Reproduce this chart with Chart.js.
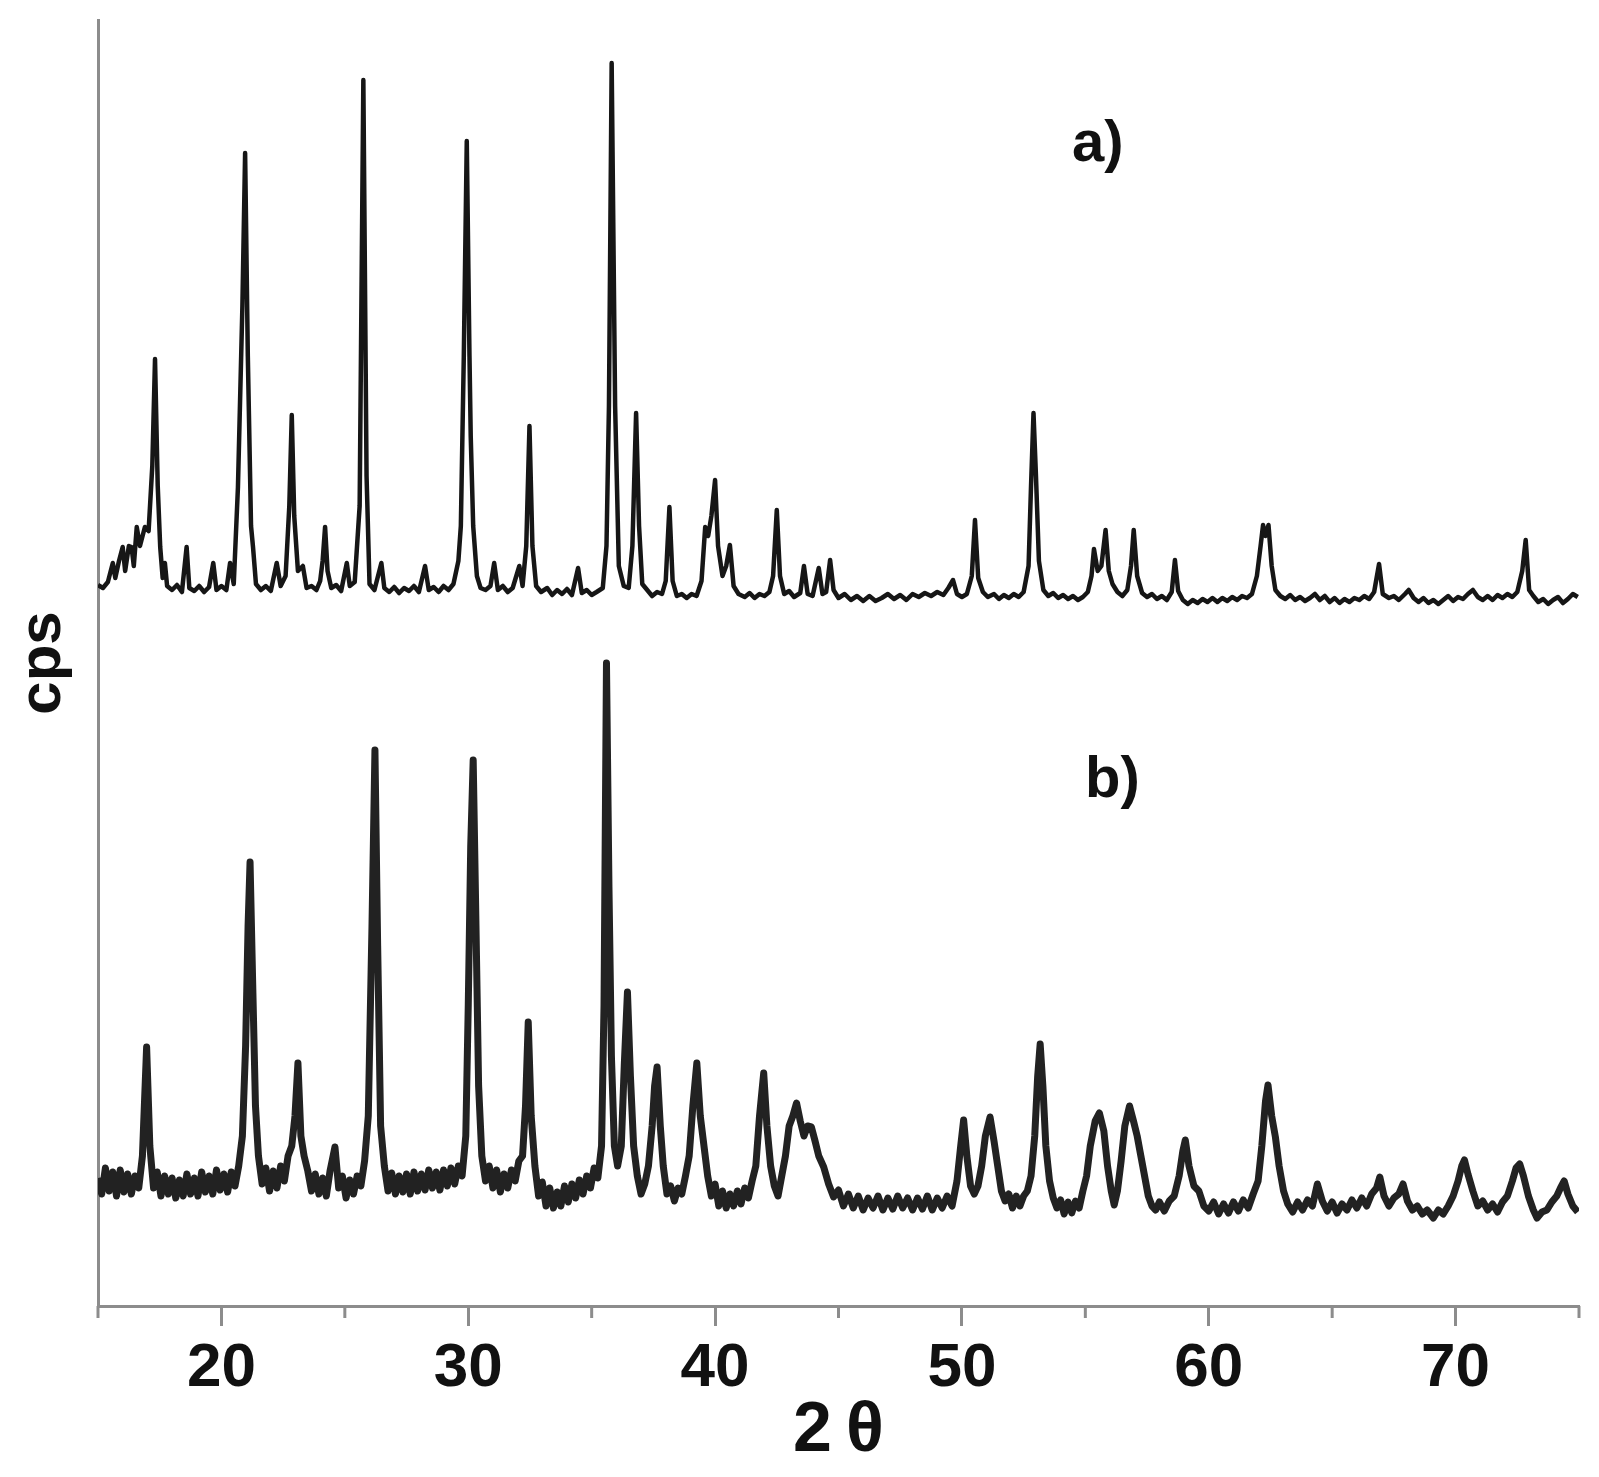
<!DOCTYPE html>
<html lang="en">
<head>
  <meta charset="UTF-8" />
  <title>XRD pattern</title>
  <script src="https://cdn.jsdelivr.net/npm/chart.js"></script>
  <style>
    body {
      margin: 0;
      background: #ffffff;
    }

    .chart-box {
      width: 1599px;
      height: 1477px;
      position: relative;
    }
  </style>
</head>
<body>
  <div class="chart-box"><canvas id="xrdChart"></canvas></div>

  <script>
    // 2-theta positions and counts
    const thetaA = [
      15.0, 15.2, 15.4, 15.6, 15.7, 15.85, 16.0, 16.1, 16.25, 16.36,
      16.45, 16.57, 16.7, 16.9, 17.05, 17.2, 17.31, 17.42, 17.52, 17.62,
      17.71, 17.8, 18.0, 18.2, 18.4, 18.59, 18.7, 18.9, 19.1, 19.3,
      19.5, 19.67, 19.8, 20.0, 20.2, 20.35, 20.5, 20.67, 20.85, 20.96,
      21.07, 21.2, 21.28, 21.4, 21.6, 21.8, 22.0, 22.24, 22.4, 22.6,
      22.75, 22.85, 22.95, 23.1, 23.3, 23.45, 23.65, 23.85, 24.0, 24.1,
      24.2, 24.3, 24.45, 24.65, 24.85, 25.08, 25.2, 25.4, 25.6, 25.75,
      25.88, 26.0, 26.2, 26.48, 26.6, 26.8, 27.0, 27.2, 27.4, 27.6,
      27.8, 28.0, 28.25, 28.4, 28.6, 28.8, 29.0, 29.2, 29.4, 29.6,
      29.7, 29.82, 29.94, 30.05, 30.1, 30.2, 30.35, 30.5, 30.7, 30.9,
      31.05, 31.2, 31.4, 31.6, 31.8, 32.07, 32.2, 32.35, 32.48, 32.6,
      32.75, 32.95, 33.2, 33.4, 33.6, 33.8, 34.0, 34.2, 34.45, 34.6,
      34.8, 35.0, 35.2, 35.45, 35.6, 35.7, 35.81, 35.95, 36.1, 36.3,
      36.5, 36.65, 36.8, 36.92, 37.05, 37.25, 37.45, 37.65, 37.85, 38.0,
      38.15, 38.28, 38.45, 38.65, 38.85, 39.05, 39.25, 39.45, 39.6, 39.72,
      39.85, 40.0, 40.12, 40.3, 40.45, 40.6, 40.75, 40.95, 41.2, 41.4,
      41.6, 41.8, 42.0, 42.2, 42.35, 42.5, 42.63, 42.8, 43.0, 43.2,
      43.45, 43.6, 43.75, 43.95, 44.2, 44.35, 44.5, 44.66, 44.8, 45.0,
      45.25, 45.5, 45.75, 46.0, 46.25, 46.5, 46.75, 47.0, 47.25, 47.5,
      47.75, 48.0, 48.25, 48.5, 48.75, 49.0, 49.25, 49.45, 49.64, 49.8,
      50.0, 50.2, 50.4, 50.53, 50.66, 50.85, 51.05, 51.3, 51.5, 51.7,
      51.9, 52.1, 52.3, 52.5, 52.7, 52.8, 52.9, 53.0, 53.12, 53.3,
      53.5, 53.7, 53.9, 54.1, 54.3, 54.5, 54.7, 54.9, 55.1, 55.25,
      55.35, 55.5, 55.65, 55.82, 55.95, 56.1, 56.3, 56.5, 56.7, 56.85,
      56.96, 57.1, 57.3, 57.5, 57.7, 57.9, 58.1, 58.3, 58.5, 58.63,
      58.76, 58.95, 59.15, 59.35, 59.55, 59.75, 59.95, 60.15, 60.35, 60.55,
      60.75, 60.95, 61.15, 61.35, 61.55, 61.75, 61.95, 62.1, 62.2, 62.3,
      62.42, 62.55, 62.7, 62.9, 63.1, 63.3, 63.5, 63.7, 63.9, 64.1,
      64.3, 64.5, 64.7, 64.9, 65.1, 65.3, 65.5, 65.7, 65.9, 66.1,
      66.3, 66.5, 66.7, 66.9, 67.05, 67.3, 67.5, 67.7, 67.95, 68.1,
      68.3, 68.5, 68.7, 68.9, 69.1, 69.3, 69.5, 69.7, 69.9, 70.1,
      70.3, 70.5, 70.7, 70.9, 71.1, 71.3, 71.5, 71.7, 71.9, 72.1,
      72.3, 72.5, 72.7, 72.84, 72.98, 73.15, 73.35, 73.55, 73.75, 73.95,
      74.15, 74.35, 74.55, 74.75, 74.95
    ];
    const cpsA = [
      721, 718, 724, 743, 728, 745, 759, 735, 760, 759,
      740, 779, 760, 779, 775, 840, 947, 820, 759, 728,
      743, 720, 716, 721, 714, 759, 718, 715, 720, 714,
      719, 743, 716, 720, 716, 743, 722, 819, 1000, 1153,
      950, 780, 759, 722, 716, 720, 715, 743, 720, 730,
      800, 891, 790, 735, 740, 718, 720, 716, 725, 745,
      779, 735, 718, 721, 715, 743, 720, 724, 800, 1226,
      830, 722, 716, 743, 718, 714, 719, 713, 718, 715,
      720, 714, 740, 716, 719, 714, 720, 716, 722, 745,
      780, 950, 1165, 950, 870, 780, 730, 718, 716, 720,
      743, 716, 720, 714, 718, 740, 720, 760, 880, 760,
      720, 714, 718, 711, 716, 712, 717, 711, 738, 713,
      716, 711, 714, 718, 760, 900, 1243, 900, 740, 720,
      718, 760, 893, 780, 722, 716, 710, 714, 712, 725,
      799, 725, 710, 712, 708, 712, 710, 725, 779, 770,
      790, 826, 760, 730, 740, 761, 720, 712, 709, 713,
      708, 712, 710, 714, 730, 796, 730, 712, 715, 709,
      713, 740, 712, 710, 738, 712, 714, 746, 716, 708,
      712, 706, 710, 705, 710, 705, 708, 712, 707, 711,
      706, 712, 709, 713, 710, 714, 711, 718, 726, 712,
      709, 712, 730, 786, 728, 714, 709, 712, 707, 711,
      708, 712, 709, 714, 740, 820, 893, 830, 745, 716,
      710, 713, 708, 711, 707, 710, 706, 709, 714, 730,
      757, 735, 740, 776, 735, 722, 714, 710, 716, 740,
      776, 730, 713, 709, 712, 707, 710, 706, 714, 746,
      715, 706, 702, 706, 703, 707, 704, 708, 704, 708,
      705, 709, 706, 710, 708, 712, 730, 760, 781, 770,
      781, 740, 716, 710, 707, 711, 706, 709, 705, 708,
      712, 706, 710, 704, 708, 703, 707, 704, 708, 706,
      710, 707, 714, 742, 712, 708, 710, 706, 712, 716,
      708, 704, 708, 703, 706, 702, 706, 710, 705, 709,
      707, 712, 716, 709, 706, 710, 706, 711, 708, 712,
      709, 714, 735, 766, 716, 710, 704, 707, 702, 706,
      709, 703, 707, 712, 709
    ];

    const thetaB = [
      15.0, 15.15, 15.3, 15.45, 15.6, 15.75, 15.9, 16.05, 16.2, 16.35,
      16.5, 16.65, 16.8, 16.97, 17.1, 17.25, 17.4, 17.55, 17.7, 17.85,
      18.0, 18.15, 18.3, 18.45, 18.6, 18.75, 18.9, 19.05, 19.2, 19.35,
      19.5, 19.65, 19.8, 19.95, 20.1, 20.25, 20.4, 20.55, 20.7, 20.85,
      20.98, 21.08, 21.16, 21.26, 21.38, 21.5, 21.65, 21.8, 21.95, 22.1,
      22.25, 22.4, 22.55, 22.7, 22.85, 22.98, 23.1, 23.22, 23.35, 23.5,
      23.65, 23.8, 23.95, 24.1, 24.25, 24.4, 24.6, 24.75, 24.9, 25.05,
      25.2, 25.35, 25.5, 25.65, 25.8, 25.95, 26.1, 26.22, 26.33, 26.45,
      26.6, 26.75, 26.9, 27.05, 27.2, 27.35, 27.5, 27.65, 27.8, 27.95,
      28.1, 28.25, 28.4, 28.55, 28.7, 28.85, 29.0, 29.15, 29.3, 29.45,
      29.6, 29.75, 29.9, 30.0, 30.1, 30.2, 30.3, 30.42, 30.55, 30.7,
      30.85, 31.0, 31.15, 31.3, 31.45, 31.6, 31.75, 31.9, 32.05, 32.2,
      32.32, 32.43, 32.55, 32.7, 32.85, 33.0, 33.15, 33.3, 33.45, 33.6,
      33.75, 33.9, 34.05, 34.2, 34.35, 34.5, 34.65, 34.8, 34.95, 35.1,
      35.25, 35.4, 35.5, 35.6, 35.7, 35.8, 35.92, 36.05, 36.2, 36.32,
      36.45, 36.57, 36.7, 36.85, 37.0, 37.15, 37.3, 37.45, 37.55, 37.65,
      37.78, 37.9, 38.05, 38.2, 38.35, 38.5, 38.65, 38.8, 38.95, 39.1,
      39.26, 39.4, 39.55, 39.7, 39.85, 40.0, 40.15, 40.3, 40.45, 40.6,
      40.75, 40.9, 41.05, 41.2, 41.35, 41.5, 41.65, 41.8, 41.97, 42.1,
      42.25, 42.4, 42.55, 42.7, 42.85, 43.0, 43.15, 43.3, 43.45, 43.6,
      43.75, 43.9, 44.05, 44.2, 44.4, 44.6, 44.8, 45.0, 45.2, 45.4,
      45.6, 45.8, 46.0, 46.2, 46.4, 46.6, 46.8, 47.0, 47.2, 47.4,
      47.6, 47.8, 48.0, 48.2, 48.4, 48.6, 48.8, 49.0, 49.2, 49.4,
      49.6, 49.8, 49.95, 50.07, 50.2, 50.35, 50.5, 50.65, 50.8, 50.95,
      51.14, 51.3, 51.45, 51.6, 51.75, 51.9, 52.05, 52.2, 52.35, 52.5,
      52.65, 52.8, 52.95, 53.07, 53.17, 53.28, 53.4, 53.55, 53.7, 53.85,
      54.0, 54.14, 54.3, 54.45, 54.6, 54.75, 54.9, 55.05, 55.2, 55.4,
      55.57, 55.75, 55.9, 56.05, 56.17, 56.3, 56.45, 56.6, 56.79, 56.95,
      57.1, 57.25, 57.4, 57.55, 57.7, 57.85, 58.0, 58.2, 58.4, 58.6,
      58.8, 58.95, 59.05, 59.2, 59.4, 59.6, 59.8, 60.0, 60.2, 60.4,
      60.6, 60.8, 61.0, 61.2, 61.4, 61.6, 61.8, 62.0, 62.15, 62.3,
      62.4, 62.55, 62.7, 62.85, 63.03, 63.2, 63.4, 63.6, 63.8, 64.0,
      64.2, 64.4, 64.6, 64.8, 65.0, 65.2, 65.4, 65.6, 65.8, 66.0,
      66.2, 66.4, 66.6, 66.8, 66.93, 67.1, 67.3, 67.5, 67.7, 67.87,
      68.05, 68.25, 68.45, 68.65, 68.85, 69.1, 69.3, 69.5, 69.7, 69.9,
      70.1, 70.25, 70.36, 70.5, 70.7, 70.9, 71.1, 71.3, 71.5, 71.7,
      71.9, 72.1, 72.3, 72.45, 72.6, 72.75, 72.95, 73.15, 73.3, 73.5,
      73.7, 73.9, 74.1, 74.25, 74.4, 74.55, 74.75, 74.95
    ];
    const cpsB = [
      128, 112, 138, 115, 134, 110, 136, 114, 132, 112,
      130, 118, 150, 259, 160, 118, 134, 110, 130, 112,
      128, 108, 126, 110, 132, 112, 128, 110, 134, 114,
      130, 112, 136, 116, 132, 114, 134, 120, 140, 170,
      260, 380, 444, 330, 200, 150, 122, 138, 115, 135,
      118, 140, 125, 150, 160, 190, 243, 170, 150, 135,
      115, 132, 112, 128, 110, 135, 159, 118, 130, 108,
      126, 112, 130, 120, 145, 190, 380, 556, 360, 180,
      140, 115, 133, 112, 130, 114, 132, 112, 134, 115,
      132, 116, 136, 118, 134, 116, 136, 120, 138, 122,
      140, 130, 170, 300, 460, 546, 400, 220, 150, 125,
      140, 118, 136, 114, 132, 118, 136, 125, 145, 150,
      200, 284, 190, 140, 110, 124, 100, 118, 98, 114,
      100, 120, 104, 122, 108, 126, 112, 130, 118, 138,
      128, 160, 300, 643, 420, 250, 160, 140, 160, 240,
      314, 230, 160, 130, 112, 122, 140, 180, 220, 239,
      180, 140, 112, 120, 105, 118, 112, 130, 150, 200,
      243, 190, 160, 130, 110, 122, 100, 115, 98, 112,
      100, 115, 102, 118, 108, 125, 140, 190, 233, 180,
      140, 120, 110, 130, 150, 180, 190, 203, 185, 170,
      180, 179, 165, 150, 139, 122, 109, 116, 100, 112,
      98, 110, 96, 108, 98, 110, 96, 108, 97, 110,
      98, 108, 96, 108, 97, 110, 96, 108, 98, 110,
      100, 125, 160, 186, 150, 120, 112, 120, 140, 170,
      189, 165, 140, 115, 105, 112, 98, 110, 100, 110,
      115, 130, 170, 230, 262, 220, 160, 125, 108, 98,
      106, 92, 104, 93, 105, 98, 115, 130, 160, 185,
      193, 175, 140, 115, 101, 115, 145, 180, 200, 185,
      170, 150, 130, 110, 100, 96, 104, 95, 105, 110,
      130, 155, 166, 140, 120, 115, 100, 95, 104, 92,
      102, 93, 104, 95, 106, 98, 112, 125, 160, 205,
      221, 190, 169, 140, 115, 102, 94, 104, 96, 106,
      100, 122, 105, 95, 104, 93, 102, 96, 106, 98,
      108, 100, 112, 118, 129, 110, 100, 108, 112, 122,
      105, 96, 100, 92, 96, 88, 96, 92, 100, 110,
      125, 140, 146, 132, 115, 100, 105, 96, 102, 94,
      104, 110, 125, 138, 142, 130, 110, 96, 88, 94,
      96, 104, 110, 118, 125, 112, 100, 94
    ];

    const majorTicks = [20, 30, 40, 50, 60, 70];
    const minorTicks = [15, 25, 35, 45, 55, 65, 75];
    const traceNames = ['a)', 'b)'];

    const fontFamily = "'Liberation Sans', Arial, sans-serif";
    const axisGrey = '#8c8c8c';

    // short unlabelled ticks at the odd fives
    const minorTickMarks = {
      id: 'minorTickMarks',
      afterDraw(chart) {
        const s = chart.scales.x;
        const ctx = chart.ctx;
        ctx.save();
        ctx.strokeStyle = axisGrey;
        ctx.lineWidth = 3;
        minorTicks.forEach(v => {
          const px = s.getPixelForValue(v);
          ctx.beginPath();
          ctx.moveTo(px, s.top);
          ctx.lineTo(px, s.top + 12);
          ctx.stroke();
        });
        ctx.restore();
      }
    };

    // "a)" / "b)" tags placed in data coordinates
    const traceTags = {
      id: 'traceTags',
      afterDatasetsDraw(chart, args, opts) {
        const { ctx, scales: { x, y } } = chart;
        ctx.save();
        ctx.font = 'bold 58px ' + fontFamily;
        ctx.fillStyle = '#111';
        ctx.textAlign = 'center';
        ctx.textBaseline = 'middle';
        opts.items.forEach(it => {
          ctx.fillText(it.text, x.getPixelForValue(it.x), y.getPixelForValue(it.y));
        });
        ctx.restore();
      }
    };

    new Chart(document.getElementById('xrdChart'), {
      type: 'line',
      data: {
        datasets: [
          {
            label: traceNames[0],
            data: thetaA.map((t, i) => ({ x: t, y: cpsA[i] })),
            borderColor: '#161616',
            borderWidth: 4.5,
            borderJoinStyle: 'round',
            pointRadius: 0,
            tension: 0
          },
          {
            label: traceNames[1],
            data: thetaB.map((t, i) => ({ x: t, y: cpsB[i] })),
            borderColor: '#222222',
            borderWidth: 7,
            borderJoinStyle: 'round',
            pointRadius: 0,
            tension: 0
          }
        ]
      },
      options: {
        responsive: true,
        maintainAspectRatio: false,
        animation: false,
        layout: { padding: { top: 20, right: 20, left: 0, bottom: 0 } },
        plugins: {
          legend: { display: false },
          tooltip: { enabled: false },
          traceTags: {
            items: [
              { text: traceNames[0], x: 55.5, y: 1161 },
              { text: traceNames[1], x: 56.1, y: 525 }
            ]
          }
        },
        scales: {
          x: {
            type: 'linear',
            min: 15,
            max: 75,
            afterBuildTicks: s => { s.ticks = majorTicks.map(v => ({ value: v })); },
            afterFit: s => { s.height = 171; },
            grid: {
              drawOnChartArea: false,
              drawTicks: true,
              tickLength: 20,
              tickWidth: 3,
              tickColor: axisGrey
            },
            border: { color: axisGrey, width: 3 },
            ticks: {
              font: { family: fontFamily, size: 62, weight: 'bold' },
              color: '#111',
              padding: 6,
              maxRotation: 0,
              autoSkip: false
            },
            title: {
              display: true,
              text: '2\u2009θ',
              font: { family: fontFamily, size: 70, weight: 'bold' },
              color: '#111',
              padding: { top: 0, bottom: 3 }
            }
          },
          y: {
            min: 0,
            max: 1286,
            afterFit: s => { s.width = 98; },
            grid: { display: false },
            ticks: { display: false },
            border: { color: axisGrey, width: 3 },
            title: {
              display: true,
              text: 'cps',
              font: { family: fontFamily, size: 60, weight: 'bold' },
              color: '#111',
              padding: { top: 7, bottom: 0 }
            }
          }
        }
      },
      plugins: [minorTickMarks, traceTags]
    });
  </script>
</body>
</html>
